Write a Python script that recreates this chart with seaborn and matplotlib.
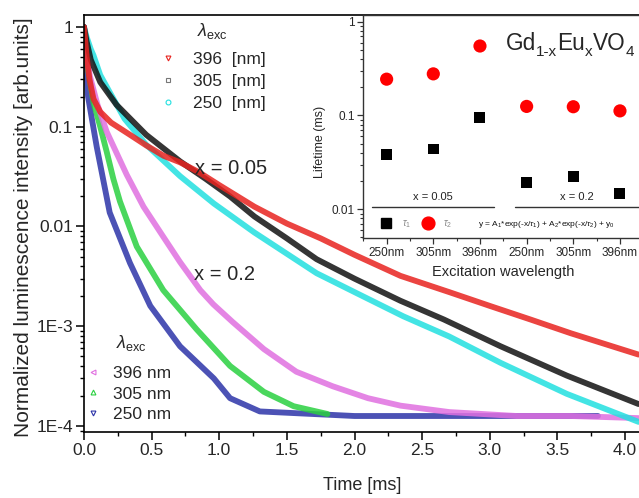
import numpy as np
import pandas as pd
import matplotlib
matplotlib.use("Agg")
import matplotlib.pyplot as plt
import seaborn as sns
from matplotlib.lines import Line2D
from matplotlib.ticker import FixedLocator, FixedFormatter, LogLocator, MultipleLocator, NullFormatter

# ---------------- data ----------------
# x = 0.05 decays
t_red = [0, 0.02, 0.04, 0.07, 0.12, 0.2, 0.34, 0.46, 0.59, 0.71, 0.85, 1.0, 1.26, 1.5, 1.75, 2.0, 2.34, 2.7, 3.0, 3.3, 3.6, 4.1]
i_red = [1.0, 0.50, 0.30, 0.19, 0.141, 0.110, 0.083, 0.065, 0.051, 0.044, 0.035, 0.026, 0.0158, 0.0107, 0.0076,
         0.0052, 0.0032, 0.0022, 0.0016, 0.00117, 0.00085, 0.00052]
t_black = [0, 0.02, 0.05, 0.12, 0.24, 0.46, 0.71, 0.9, 1.08, 1.26, 1.5, 1.72, 2.0, 2.34, 2.66, 3.08, 3.57, 4.1]
i_black = [1.0, 0.71, 0.47, 0.28, 0.166, 0.083, 0.045, 0.030, 0.020, 0.0126, 0.0076, 0.0047, 0.0030, 0.0018,
           0.00117, 0.00063, 0.00032, 0.000166]
t_cyan = [0, 0.02, 0.05, 0.07, 0.12, 0.2, 0.3, 0.46, 0.71, 0.96, 1.26, 1.72, 2.0, 2.36, 2.7, 3.08, 3.57, 4.1]
i_cyan = [1.0, 0.79, 0.60, 0.52, 0.33, 0.21, 0.120, 0.066, 0.032, 0.017, 0.0087, 0.0034, 0.0022, 0.00126,
          0.00079, 0.00043, 0.00021, 0.00011]
# x = 0.2 decays
t_mag = [0, 0.02, 0.044, 0.1, 0.168, 0.316, 0.44, 0.586, 0.71, 0.86, 0.956, 1.1, 1.33, 1.57, 1.84, 2.1, 2.34, 2.7,
         3.2, 3.6, 4.1]
i_mag = [1.0, 0.50, 0.32, 0.166, 0.089, 0.033, 0.0158, 0.0079, 0.0044, 0.0023, 0.00166, 0.0011, 0.00059, 0.00035,
         0.00025, 0.00019, 0.00016, 0.000138, 0.000126, 0.000126, 0.00012]
t_green = [0, 0.02, 0.069, 0.12, 0.168, 0.217, 0.266, 0.39, 0.586, 0.833, 1.08, 1.33, 1.55, 1.8]
i_green = [1.0, 0.45, 0.178, 0.10, 0.056, 0.030, 0.0178, 0.0063, 0.0023, 0.00093, 0.0004, 0.00022, 0.000158, 0.000132]
t_blue = [0, 0.01, 0.03, 0.094, 0.19, 0.34, 0.49, 0.71, 0.96, 1.08, 1.3, 2.0, 3.0, 3.8]
i_blue = [1.0, 0.5, 0.2, 0.063, 0.0138, 0.0043, 0.0016, 0.00063, 0.0003, 0.00019, 0.00014, 0.000126, 0.000126, 0.000126]

x_ticks = [0.0, 0.5, 1.0, 1.5, 2.0, 2.5, 3.0, 3.5, 4.0]
x_ticklabels = ["0.0", "0.5", "1.0", "1.5", "2.0", "2.5", "3.0", "3.5", "4.0"]
y_ticks = [1e-4, 1e-3, 1e-2, 1e-1, 1]
y_ticklabels = ["1E-4", "1E-3", "0.01", "0.1", "1"]

legend_top = ["396  [nm]", "305  [nm]", "250  [nm]"]
legend_bot = ["396 nm", "305 nm", "250 nm"]

# inset: lifetimes
inset_labels = ["250nm", "305nm", "396nm", "250nm", "305nm", "396nm"]
tau1 = [0.0382, 0.0439, 0.0962, 0.0194, 0.0224, 0.0147]
tau2 = [0.244, 0.278, 0.551, 0.125, 0.124, 0.112]

# ---------------- style ----------------
sns.set_theme(style="ticks")
plt.rcParams['font.family'] = ['Liberation Sans', 'DejaVu Sans']
plt.rcParams['mathtext.fontset'] = 'custom'
plt.rcParams['mathtext.rm'] = 'Liberation Sans'
plt.rcParams['mathtext.it'] = 'Liberation Sans:italic'
plt.rcParams['mathtext.bf'] = 'Liberation Sans:bold'

W, H = 639, 498
fig = plt.figure(figsize=(6.39, 4.98), dpi=100)


def fx(px):
    return px / W


def fy(py):
    return 1 - py / H


colors = {"red": "#e8231f", "black": "#111111", "cyan": "#22e0e0",
          "mag": "#e070e0", "green": "#2ad040", "blue": "#2c34a8"}

rows = []
for key, tt, ii in [("blue", t_blue, i_blue), ("green", t_green, i_green), ("mag", t_mag, i_mag),
                    ("cyan", t_cyan, i_cyan), ("black", t_black, i_black), ("red", t_red, i_red)]:
    for a, b in zip(tt, ii):
        rows.append((key, a, b))
df = pd.DataFrame(rows, columns=["series", "t", "I"])

ax = fig.add_axes([fx(84), fy(432), (640 - 84) / W, (432 - 15) / H])
ax.set_yscale("log")
for key in ["blue", "green", "mag", "cyan", "black", "red"]:
    sub = df[df.series == key]
    sns.lineplot(data=sub, x="t", y="I", color=colors[key], linewidth=4.2, alpha=0.85,
                 estimator=None, sort=False, legend=False, ax=ax)

ax.set_xlim(0, (640 - 84) / 135.25)
ax.set_ylim(10 ** (-4.06), 10 ** 0.12)
ax.xaxis.set_major_locator(FixedLocator(x_ticks))
ax.xaxis.set_major_formatter(FixedFormatter(x_ticklabels))
ax.xaxis.set_minor_locator(MultipleLocator(0.25))
ax.yaxis.set_major_locator(FixedLocator(y_ticks))
ax.yaxis.set_major_formatter(FixedFormatter(y_ticklabels))
ax.yaxis.set_minor_locator(LogLocator(base=10, subs=np.arange(2, 10)))
ax.yaxis.set_minor_formatter(NullFormatter())
ax.tick_params(which="major", direction="out", length=6, width=1.1, labelsize=12.5, pad=2, color="black")
ax.tick_params(which="minor", direction="out", length=3, width=1.0, color="black")
for s in ax.spines.values():
    s.set_color("black")
    s.set_linewidth(1.2)
ax.set_xlabel("Time [ms]", fontsize=13)
ax.set_ylabel("Normalized luminescence intensity [arb.units]", fontsize=15)
ax.xaxis.set_label_coords(0.5, -(477 - 432) / 417)
ax.yaxis.set_label_coords((33 - 84) / 556, 0.49)

# top legend
h_top = [Line2D([], [], ls="", marker=m, mfc="none", mec=c, ms=3.5, mew=0.8)
         for m, c in zip(["v", "s", "o"], [colors["red"], "#777777", colors["cyan"]])]
leg1 = ax.legend(h_top, legend_top, loc="upper left", bbox_to_anchor=(fx(159), fy(52)),
                 bbox_transform=fig.transFigure, frameon=False, fontsize=12.5, handlelength=1.0,
                 handletextpad=0.95, labelspacing=0.38, borderpad=0, borderaxespad=0)
ax.add_artist(leg1)
fig.text(fx(197), fy(36), r"$\lambda_{\mathrm{exc}}$", fontsize=13, ha="left", va="baseline")

# bottom legend
h_bot = [Line2D([], [], ls="", marker=m, mfc="none", mec=c, ms=3.5, mew=0.8)
         for m, c in zip(["<", "^", "v"], [colors["mag"], colors["green"], colors["blue"]])]
leg2 = ax.legend(h_bot, legend_bot, loc="upper left", bbox_to_anchor=(fx(84.5), fy(366)),
                 bbox_transform=fig.transFigure, frameon=False, fontsize=12.5, handlelength=1.0,
                 handletextpad=0.65, labelspacing=0.3, borderpad=0, borderaxespad=0)
fig.text(fx(116), fy(348), r"$\lambda_{\mathrm{exc}}$", fontsize=13, ha="left", va="baseline")

fig.text(fx(231), fy(168), "x = 0.05", fontsize=14.5, ha="center", va="center")
fig.text(fx(225), fy(274), "x = 0.2", fontsize=14.5, ha="center", va="center")

# ---------------- inset ----------------
ins = fig.add_axes([fx(363.3), fy(238.3), (643.3 - 363.3) / W, (238.3 - 15) / H])
ins.set_facecolor("white")
ins.set_yscale("log")
pos = list(range(1, len(inset_labels) + 1))
sns.scatterplot(x=pos, y=tau2, color="#ff0000", marker="o", s=90, edgecolor="none", ax=ins, legend=False, zorder=3)
sns.scatterplot(x=pos, y=tau1, color="black", marker="s", s=62, edgecolor="none", ax=ins, legend=False, zorder=3)
ins.set_xlim(0.5, 6.5)
ins.set_ylim(0.0049, 1.18)
ins.xaxis.set_major_locator(FixedLocator(pos))
ins.xaxis.set_major_formatter(FixedFormatter(inset_labels))
ins.xaxis.set_minor_locator(MultipleLocator(0.5))
ins.yaxis.set_major_locator(FixedLocator([0.01, 0.1, 1]))
ins.yaxis.set_major_formatter(FixedFormatter(["0.01", "0.1", "1"]))
ins.yaxis.set_minor_locator(LogLocator(base=10, subs=np.arange(2, 10)))
ins.yaxis.set_minor_formatter(NullFormatter())
ins.tick_params(which="major", direction="out", length=4, width=0.9, labelsize=8.5, pad=2, color="#333333")
ins.tick_params(which="minor", direction="out", length=2, width=0.8, color="#333333")
for s in ins.spines.values():
    s.set_color("#333333")
    s.set_linewidth(1.0)
ins.set_xlabel("Excitation wavelength", fontsize=10.5)
ins.set_ylabel("Lifetime (ms)", fontsize=9)
ins.xaxis.set_label_coords(0.5, -(265 - 238.3) / 223.3)
ins.yaxis.set_label_coords((326 - 363.3) / 280, (238.3 - 142) / 223.3)

# brackets & group labels
ins.plot([0.68, 3.29], [0.0106, 0.0106], color="#333333", lw=1.0)
ins.plot([3.75, 6.6], [0.0106, 0.0106], color="#333333", lw=1.0, clip_on=False)
ins.text(2.0, 0.0136, "x = 0.05", fontsize=8, ha="center", va="center", color="#222222")
ins.text(5.07, 0.0136, "x = 0.2", fontsize=8, ha="center", va="center", color="#222222")

h_ins = [Line2D([], [], ls="", marker="s", color="black", ms=7.8),
         Line2D([], [], ls="", marker="o", color="#ff0000", ms=9.2)]
leg3 = ins.legend(h_ins, [r"$\tau_1$", r"$\tau_2$"], loc="center left",
                  bbox_to_anchor=(fx(381.5), fy(224)), bbox_transform=fig.transFigure,
                  ncol=2, frameon=False, fontsize=7, handlelength=1.0, handletextpad=1.1,
                  columnspacing=1.2, borderpad=0, borderaxespad=0)
for txt in leg3.get_texts():
    txt.set_color("#888888")
fig.text(fx(478), fy(224), r"y = A$_1$*exp(-x/$\tau_1$) + A$_2$*exp(-x/$\tau_2$) + y$_0$",
         fontsize=6, ha="left", va="center", color="#111111")

# compound formula title, composed piece by piece (hyphen, not minus)
renderer = fig.canvas.get_renderer()
xcur = 506.0
base = 50.0
for txt, size, dy in [("Gd", 16.3, 0), ("1-x", 11, 6), ("Eu", 16.3, 0), ("x", 11, 6), ("VO", 16.3, 0), ("4", 11, 6)]:
    tobj = fig.text(fx(xcur), fy(base + dy), txt, fontsize=size, ha="left", va="baseline")
    bb = tobj.get_window_extent(renderer)
    xcur = bb.x1

fig.savefig("out.png", dpi=100)
